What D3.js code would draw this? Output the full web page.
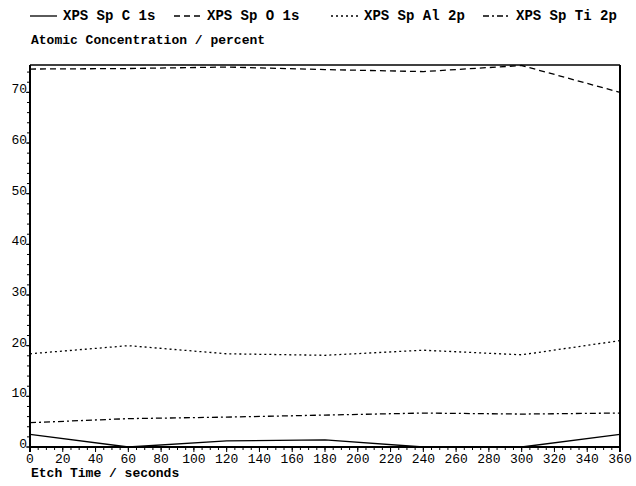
<!DOCTYPE html>
<html>
<head>
<meta charset="utf-8">
<script src="https://cdn.jsdelivr.net/npm/d3@7"></script>
<style>
  html, body { margin: 0; padding: 0; background: #fff; }
  svg { display: block; }
  .mono { font-family: "Liberation Mono", "DejaVu Sans Mono", monospace; fill: #000; }
</style>
</head>
<body>
<svg id="chart" width="636" height="486"></svg>
<script>
// Etch times (seconds) at which each spectrum was recorded
const etchTime = [0, 60, 120, 180, 240, 300, 360];

// Atomic concentration (percent) for each element
const carbon1s   = [2.5, 0.0, 1.2, 1.4, 0.0, 0.0, 2.5];
const oxygen1s   = [74.6, 74.7, 75.0, 74.5, 74.1, 75.3, 70.0];
const aluminum2p = [18.4, 20.0, 18.4, 18.1, 19.1, 18.2, 21.0];
const titanium2p = [4.8, 5.6, 5.9, 6.3, 6.7, 6.5, 6.7];

const seriesNames = ["XPS Sp C 1s", "XPS Sp O 1s", "XPS Sp Al 2p", "XPS Sp Ti 2p"];
const seriesValues = [carbon1s, oxygen1s, aluminum2p, titanium2p];
const seriesDash = ["none", "6,4", "2,3", "6,3,2,3"];

const xTicks = d3.range(0, 361, 20);
const yTicks = [0, 10, 20, 30, 40, 50, 60, 70];

const svg = d3.select("#chart");
const plotLeft = 30, plotRight = 620, plotTop = 65, plotBottom = 447;

const x = d3.scaleLinear().domain([0, 360]).range([plotLeft, plotRight]);
const y = d3.scaleLinear().domain([0, 75.4]).range([plotBottom, plotTop]);

// Frame: top and right edges
svg.append("line").attr("x1", plotLeft).attr("x2", plotRight).attr("y1", plotTop).attr("y2", plotTop)
  .attr("stroke", "#000").attr("stroke-width", 1.5);
svg.append("line").attr("x1", plotRight).attr("x2", plotRight).attr("y1", plotTop).attr("y2", plotBottom + 5)
  .attr("stroke", "#000").attr("stroke-width", 2);

// Y axis: minor ticks every 2, labels sitting on the major ticks
const yAxis = svg.append("g");
yAxis.append("line").attr("x1", plotLeft).attr("x2", plotLeft).attr("y1", plotTop).attr("y2", plotBottom + 5)
  .attr("stroke", "#000").attr("stroke-width", 2);
yAxis.selectAll("line.minor").data(d3.range(0, 75, 2)).join("line")
  .attr("class", "minor")
  .attr("x1", plotLeft - 3).attr("x2", plotLeft)
  .attr("y1", d => y(d)).attr("y2", d => y(d))
  .attr("stroke", "#000").attr("stroke-width", 1);
yAxis.selectAll("line.major").data(yTicks).join("line")
  .attr("class", "major")
  .attr("x1", plotLeft - 4).attr("x2", plotLeft)
  .attr("y1", d => y(d)).attr("y2", d => y(d))
  .attr("stroke", "#000").attr("stroke-width", 1);
yAxis.selectAll("text").data(yTicks).join("text")
  .attr("class", "mono")
  .attr("x", plotLeft - 3).attr("y", d => y(d) + 1)
  .attr("text-anchor", "end")
  .attr("font-size", 13)
  .text(d => d);

// X axis: minor ticks every 5 seconds, labelled every 20
const xAxis = svg.append("g");
xAxis.append("line").attr("x1", plotLeft).attr("x2", plotRight).attr("y1", plotBottom).attr("y2", plotBottom)
  .attr("stroke", "#000").attr("stroke-width", 2);
xAxis.selectAll("line.minor").data(d3.range(0, 361, 5)).join("line")
  .attr("class", "minor")
  .attr("x1", d => x(d)).attr("x2", d => x(d))
  .attr("y1", plotBottom).attr("y2", plotBottom + 3)
  .attr("stroke", "#000").attr("stroke-width", 1);
xAxis.selectAll("line.major").data(xTicks).join("line")
  .attr("class", "major")
  .attr("x1", d => x(d)).attr("x2", d => x(d))
  .attr("y1", plotBottom).attr("y2", plotBottom + 5)
  .attr("stroke", "#000").attr("stroke-width", 1);
xAxis.selectAll("text").data(xTicks).join("text")
  .attr("class", "mono")
  .attr("x", d => x(d)).attr("y", plotBottom + 16)
  .attr("text-anchor", "middle")
  .attr("font-size", 13)
  .text(d => d);

// Axis titles
svg.append("text").attr("class", "mono")
  .attr("x", 31).attr("y", 477).attr("font-size", 13).attr("font-weight", "bold")
  .text("Etch Time / seconds");
svg.append("text").attr("class", "mono")
  .attr("x", 31).attr("y", 44).attr("font-size", 13).attr("font-weight", "bold")
  .text("Atomic Concentration / percent");

// Data lines
const line = d3.line().x((d, i) => x(etchTime[i])).y(d => y(d));
svg.append("g").selectAll("path").data(seriesValues).join("path")
  .attr("d", d => line(d))
  .attr("fill", "none")
  .attr("stroke", "#000")
  .attr("stroke-width", 1.3)
  .attr("stroke-dasharray", (d, i) => seriesDash[i]);

// Legend
const legendX = [30, 174, 331, 483];
const legend = svg.append("g");
seriesNames.forEach((name, i) => {
  legend.append("line")
    .attr("x1", legendX[i]).attr("x2", legendX[i] + 27)
    .attr("y1", 16).attr("y2", 16)
    .attr("stroke", "#000").attr("stroke-width", 1.3)
    .attr("stroke-dasharray", seriesDash[i]);
  legend.append("text").attr("class", "mono")
    .attr("x", legendX[i] + 33).attr("y", 20)
    .attr("font-size", 14).attr("font-weight", "bold")
    .text(name);
});
</script>
</body>
</html>
